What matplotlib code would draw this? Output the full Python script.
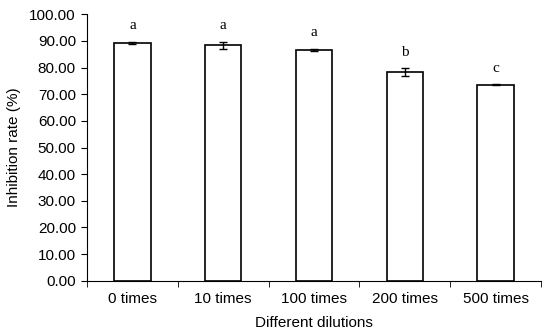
import matplotlib.pyplot as plt

categories = ['0 times', '10 times', '100 times', '200 times', '500 times']
rates = [89.3, 88.3, 86.5, 78.2, 73.5]
errors = [0.3, 1.4, 0.4, 1.5, 0.2]
letters = ['a', 'a', 'a', 'b', 'c']

plt.rcParams['font.family'] = ['Liberation Sans', 'DejaVu Sans']

fig = plt.figure(figsize=(5.5, 3.31), dpi=100)
ax = fig.add_axes([87 / 550, 1 - 280.7 / 331, (541 - 87) / 550, (280.7 - 14.3) / 331])

x = list(range(len(categories)))
ax.bar(x, rates, width=0.4, color='white', edgecolor='black', linewidth=1.2,
       yerr=errors, error_kw=dict(ecolor='black', elinewidth=1, capsize=3, capthick=1))

for xi, r, e, lab in zip(x, rates, errors, letters):
    ax.annotate(lab, (xi, r + e), xytext=(0, 7), textcoords='offset points',
                ha='center', va='bottom', fontsize=11, family='Liberation Serif')

ax.set_xlim(-0.5, len(categories) - 0.5)
ax.set_ylim(0, 100)
ax.set_yticks(range(0, 101, 10))
ax.set_yticklabels(['{:.2f}'.format(v) for v in range(0, 101, 10)], fontsize=11)
ax.set_xticks(x)
ax.set_xticklabels(categories, fontsize=11)
ax.tick_params(axis='x', length=0, pad=8)
ax.set_xticks([i - 0.5 for i in range(len(categories) + 1)], minor=True)
ax.tick_params(axis='x', which='minor', length=4, direction='out')
ax.tick_params(axis='y', length=4, direction='out', pad=4)

ax.spines['top'].set_visible(False)
ax.spines['right'].set_visible(False)
ax.set_ylabel('Inhibition rate (%)', fontsize=11, labelpad=6)
ax.set_xlabel('Different dilutions', fontsize=11, labelpad=7)

fig.savefig('out.png', dpi=100)
